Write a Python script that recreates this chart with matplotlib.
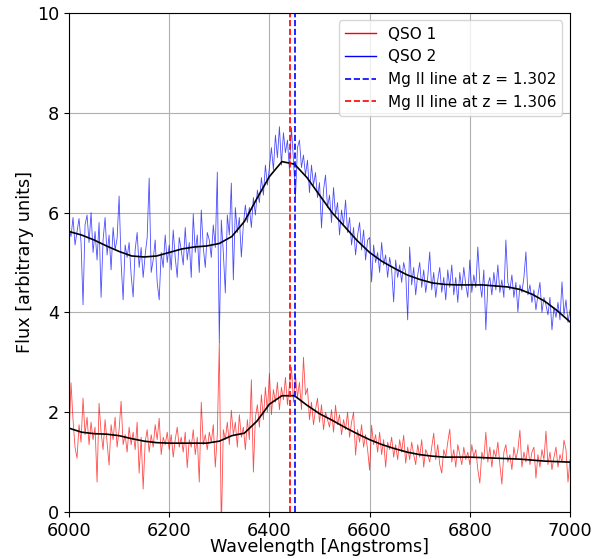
import numpy as np
import matplotlib
matplotlib.use('Agg')
import matplotlib.pyplot as plt

# wavelength grid of the spectra (4 A steps)
wave = np.arange(6000, 7001, 4)

qso2_flux = [
    5.68, 5.52, 5.90, 5.35, 5.62, 5.88, 5.40, 4.15, 5.75, 5.95,
    5.40, 6.00, 5.20, 5.62, 5.05, 5.80, 4.30, 5.45, 5.90, 5.15,
    5.55, 4.85, 5.70, 5.25, 5.48, 6.33, 5.00, 4.25, 5.35, 5.10,
    5.40, 4.75, 4.31, 5.25, 5.60, 4.90, 5.30, 4.70, 5.15, 5.50,
    6.69, 4.80, 5.05, 5.45, 4.60, 4.25, 5.20, 4.90, 5.55, 5.00,
    5.35, 4.85, 5.65, 5.10, 4.70, 5.50, 5.25, 4.95, 5.70, 5.05,
    5.40, 4.70, 5.97, 5.20, 5.55, 4.80, 6.05, 5.30, 4.90, 5.60,
    5.45, 5.10, 5.75, 5.30, 6.81, 3.40, 5.85, 5.20, 4.39, 5.95,
    5.55, 6.59, 4.65, 6.10, 5.60, 5.90, 5.11, 5.75, 6.15, 5.80,
    6.10, 5.70, 6.30, 5.95, 6.45, 6.20, 6.70, 6.35, 6.95, 6.55,
    6.90, 7.30, 6.85, 7.55, 7.10, 7.72, 6.95, 7.60, 7.20, 7.45,
    6.85, 7.70, 7.05, 6.31, 7.30, 7.45, 6.90, 7.15, 6.75, 7.05,
    6.40, 6.95, 6.55, 6.80, 6.30, 6.60, 5.69, 6.45, 6.75, 6.10,
    6.35, 5.80, 6.50, 5.95, 6.20, 5.55, 6.05, 5.75, 6.25, 5.60,
    5.90, 5.35, 5.70, 5.15, 5.55, 5.80, 5.25, 5.65, 5.05, 5.45,
    5.50, 4.61, 5.35, 5.00, 5.20, 4.80, 5.40, 4.95, 5.15, 4.70,
    5.10, 4.85, 4.21, 5.05, 4.70, 4.95, 4.60, 5.00, 4.80, 3.85,
    5.31, 4.55, 4.90, 4.35, 4.75, 5.00, 4.50, 4.85, 4.40, 4.70,
    5.21, 4.45, 4.80, 4.30, 4.65, 4.90, 4.40, 4.70, 4.25, 4.85,
    4.50, 4.95, 4.35, 4.70, 4.20, 4.80, 4.45, 4.90, 4.55, 4.30,
    5.05, 4.40, 4.75, 4.50, 5.31, 4.60, 4.30, 4.85, 3.65, 4.55,
    4.70, 4.35, 4.80, 4.45, 4.95, 4.40, 4.65, 4.30, 5.45, 4.60,
    4.45, 4.75, 4.30, 4.60, 4.01, 4.55, 4.40, 4.70, 5.21, 4.35,
    4.55, 4.20, 4.45, 4.05, 4.35, 4.60, 4.00, 4.30, 4.15, 3.95,
    4.30, 3.65, 4.10, 3.90, 4.20, 3.85, 4.61, 3.95, 4.25, 3.80,
    4.05,
]

qso1_flux = [
    1.50, 2.59, 1.85, 1.30, 1.08, 1.75, 1.40, 2.28, 1.55, 1.90,
    1.35, 1.80, 1.45, 1.70, 0.60, 2.18, 1.60, 1.25, 1.85, 1.40,
    0.94, 1.75, 1.45, 1.90, 1.30, 1.65, 2.22, 1.35, 1.55, 1.20,
    1.70, 1.35, 1.60, 1.25, 1.80, 0.78, 1.50, 0.46, 1.40, 1.65,
    1.20, 1.55, 1.30, 1.75, 1.45, 1.88, 1.15, 1.50, 1.35, 1.60,
    1.25, 1.55, 1.10, 1.45, 1.70, 1.30, 1.50, 1.20, 1.60, 0.89,
    1.45, 1.30, 1.65, 1.15, 1.50, 0.60, 2.20, 1.35, 1.55, 1.25,
    1.60, 1.40, 1.75, 0.90, 1.55, 3.40, -0.40, 1.65, 1.45, 1.80,
    1.35, 2.04, 1.55, 1.80, 1.30, 1.95, 1.50, 1.70, 1.25, 1.85,
    1.45, 2.65, 0.80, 1.90, 2.15, 1.70, 2.35, 1.85, 2.50, 2.00,
    2.78, 1.95, 2.45, 2.20, 2.60, 2.05, 2.50, 2.25, 2.70, 2.15,
    2.55, 2.90, 2.20, 2.75, 2.30, 2.60, 2.05, 3.10, 2.35, 2.48,
    1.85, 2.20, 1.75, 2.05, 2.28, 1.80, 2.15, 1.65, 2.00, 1.85,
    1.70, 2.05, 1.60, 2.14, 1.75, 1.95, 1.55, 1.85, 1.65, 2.00,
    1.50, 1.80, 2.00, 1.14, 1.65, 1.40, 1.75, 1.30, 1.55, 1.25,
    0.84, 1.74, 1.35, 1.55, 1.20, 1.60, 1.15, 1.45, 0.90, 1.40,
    1.25, 1.50, 1.10, 1.35, 1.05, 1.45, 1.20, 1.54, 0.98, 1.30,
    1.05, 1.40, 1.15, 0.95, 1.35, 1.10, 1.45, 0.90, 1.25, 1.15,
    1.00, 1.30, 1.58, 1.05, 1.35, 0.95, 0.78, 1.25, 1.10, 1.40,
    1.66, 1.00, 1.25, 0.90, 1.35, 1.15, 0.95, 1.30, 1.05, 1.20,
    0.95, 1.35, 1.10, 1.25, 0.85, 0.58, 1.20, 1.05, 1.60, 1.00,
    1.30, 0.90, 1.25, 1.10, 1.40, 0.95, 0.56, 1.20, 1.35, 1.00,
    1.15, 0.85, 1.30, 1.05, 1.25, 1.64, 0.90, 1.20, 1.00, 1.35,
    0.95, 1.20, 1.30, 0.68, 1.15, 0.90, 1.25, 1.05, 1.62, 0.95,
    1.20, 0.85, 1.10, 1.30, 0.90, 1.15, 1.00, 1.44, 1.25, 0.60,
    1.05,
]

# smooth fits, sampled every 25 A
fit_wave = np.arange(6000, 7001, 25)
qso2_fit = [5.62, 5.55, 5.45, 5.33, 5.22, 5.13, 5.11, 5.13, 5.20, 5.27,
            5.31, 5.33, 5.38, 5.52, 5.82, 6.28, 6.72, 7.02, 6.97, 6.70,
            6.35, 6.00, 5.72, 5.44, 5.20, 5.02, 4.88, 4.75, 4.66, 4.59,
            4.56, 4.55, 4.55, 4.55, 4.53, 4.51, 4.46, 4.36, 4.22, 4.03,
            3.81]
qso1_fit = [1.68, 1.60, 1.57, 1.56, 1.53, 1.47, 1.42, 1.39, 1.38, 1.38,
            1.38, 1.38, 1.42, 1.53, 1.58, 1.82, 2.16, 2.33, 2.33, 2.14,
            1.97, 1.84, 1.70, 1.57, 1.45, 1.35, 1.27, 1.20, 1.15, 1.12,
            1.10, 1.10, 1.10, 1.09, 1.08, 1.07, 1.06, 1.04, 1.02, 1.01,
            1.00]

mg2_lines = [6452, 6441]
mg2_labels = ['Mg II line at z = 1.302', 'Mg II line at z = 1.306']
mg2_colors = ['blue', 'red']

fig = plt.figure(figsize=(6.08, 5.59), dpi=100)
ax = fig.add_axes([0.1135, 0.084, 0.824, 0.893])

ax.plot(wave, qso1_flux, color='red', linewidth=0.6, alpha=0.7, label='QSO 1')
ax.plot(wave, qso2_flux, color='blue', linewidth=0.6, alpha=0.7, label='QSO 2')
ax.plot(fit_wave, qso1_fit, color='black', linewidth=1.2)
ax.plot(fit_wave, qso2_fit, color='black', linewidth=1.2)

for wl, lab, col in zip(mg2_lines, mg2_labels, mg2_colors):
    ax.axvline(wl, color=col, linestyle='--', linewidth=1.2, label=lab)

ax.set_xlim(6000, 7000)
ax.set_ylim(0, 10)
ax.set_xticks(np.arange(6000, 7001, 200))
ax.set_yticks(np.arange(0, 11, 2))
ax.tick_params(labelsize=12.7)
ax.set_xlabel('Wavelength [Angstroms]', fontsize=12.7, labelpad=-1)
ax.set_ylabel('Flux [arbitrary units]', fontsize=12.7, labelpad=2)
ax.grid(True)
leg = ax.legend(loc='upper right', fontsize=11)
for line in leg.get_lines()[:2]:
    line.set_linewidth(1.0)
    line.set_alpha(1.0)

fig.savefig('out.png', dpi=100)
